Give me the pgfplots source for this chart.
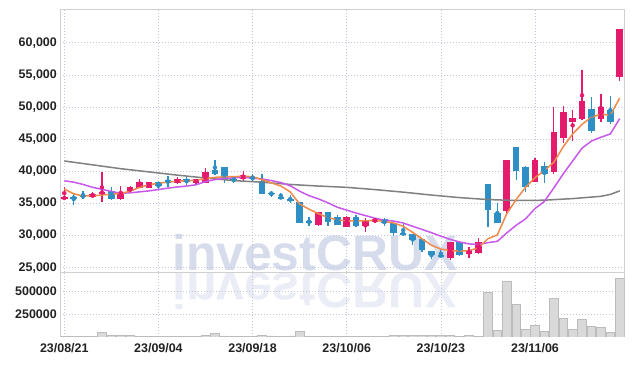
\documentclass[border=0pt]{standalone}
\usepackage{fontspec}
\setmainfont{Liberation Sans}
\usepackage{graphicx}
\usepackage{pgfplots}
\usepackage{pgfplotstable}
\pgfplotsset{compat=1.18}
\definecolor{cred}{RGB}{228,27,108}
\definecolor{cblue}{RGB}{46,143,196}
\definecolor{corange}{RGB}{240,138,75}
\definecolor{cpurple}{RGB}{200,88,235}
\definecolor{cgrayma}{RGB}{128,128,128}
\definecolor{gridc}{RGB}{196,199,218}
\definecolor{framec}{RGB}{208,208,208}
\definecolor{volfill}{RGB}{217,217,217}
\definecolor{voldraw}{RGB}{188,188,188}
\definecolor{wm}{RGB}{200,208,228}
\definecolor{labc}{RGB}{34,34,34}

\pgfplotstableread{
x o h l c
0 35700 37480 35700 35975
3 35950 36720 35900 36460
4 36570 39830 35170 36820
6 35630 37750 35520 36820
7 36970 37700 36600 37500
8 37440 38790 37400 38370
9 37440 38400 37400 38320
12 38120 39050 38000 38790
14 38120 38850 38050 38790
15 38200 40450 38100 39830
19 38740 40080 38280 39360
27 31590 33700 31500 33660
30 31380 33000 31300 32930
32 31530 32680 30500 32260
33 32150 32680 32000 32570
41 26550 29040 26200 28950
43 27080 28260 26460 27750
44 27230 29570 27100 29040
47 33860 41740 33190 41740
50 38370 42000 38370 41740
52 39830 49940 39520 46050
53 45120 50140 44340 49170
54 47650 49520 44750 48330
55 48120 55740 47900 50920
57 48120 51960 47700 49940
59 54700 62070 54030 62070
}\redtab

\pgfplotstableread{
x o h l c
1 36000 36610 34750 35800
2 36260 36970 35630 35950
5 36970 37500 35520 35630
10 38370 38400 37100 37750
11 38630 39260 37600 38120
13 38790 39050 37900 38280
16 40190 41750 39400 39570
17 40700 40700 38210 38630
18 38790 39300 38120 38530
20 39000 39520 38530 38800
21 38530 39520 36400 36410
22 36650 36970 35940 36450
23 36040 36650 35790 35790
24 35730 36300 35010 35480
25 35210 35210 31900 32000
26 32260 32830 31480 32060
28 33660 33660 31480 32060
29 32930 33190 31640 31700
31 32930 33190 31280 31530
34 32520 32680 31480 31900
35 31900 31900 29980 30350
36 30400 31740 29940 30200
37 30240 30240 28530 29300
38 29410 29410 27440 27750
39 27600 27600 26300 26930
40 26950 27750 26610 26750
42 28950 29040 26820 26970
45 38010 38010 31280 33970
46 33450 35010 31990 31990
48 43720 43720 38630 40080
49 40600 40860 36820 37590
51 40810 41380 38120 39520
56 49670 51590 45900 46300
58 49520 51700 47300 47700
}\bluetab

\pgfplotstableread{
x ma5 ma20
0 37230 38530
1 36500 38300
2 36150 37950
3 36200 37500
4 36300 37200
5 36450 36850
6 36550 36580
7 36900 36650
8 37500 36800
9 37900 36950
10 38150 37150
11 38300 37380
12 38450 37550
13 38530 37700
14 38600 37900
15 38850 38400
16 39050 38700
17 39150 38880
18 39150 38980
19 39250 39050
20 39150 38950
21 38700 38800
22 38200 38550
23 37700 38250
24 36800 37750
25 34900 36900
26 34100 36200
27 33400 35700
28 32800 35100
29 32450 34400
30 32280 33950
31 32300 33500
32 32260 33100
33 32400 32700
34 32180 32400
35 31950 32250
36 31450 31950
37 30500 31450
38 29500 30950
39 28500 30450
40 27900 29900
41 27650 29400
42 27600 29000
43 27650 28700
44 28100 28600
45 29500 28900
46 30100 29100
47 33400 30400
48 35600 31600
49 37500 32600
50 39000 34200
51 40100 35300
52 41400 37400
53 43800 39600
54 45800 41600
55 47300 43600
56 48400 44700
57 48900 45300
58 48700 45800
59 51400 48200
}\matab

\pgfplotstableread{
x v
0 41600
3 41000
6 40400
9 39900
12 39400
15 38950
18 38550
21 38300
24 37950
27 37700
30 37500
33 37150
36 36750
39 36300
42 35900
45 35600
48 35450
51 35500
54 35750
57 36100
58 36400
59 36950
}\longtab

\pgfplotstableread{
x v
0 8000
1 5000
2 5000
3 6000
4 50000
5 20000
6 20000
7 12000
8 5000
9 5000
10 5000
11 6000
12 5000
13 5000
14 8000
15 18000
16 38000
17 10000
18 5000
19 6000
20 5000
21 18000
22 10000
23 5000
24 10000
25 60000
26 6000
27 5000
28 5000
29 5000
30 6000
31 6000
32 5000
33 5000
34 5000
35 18000
36 12000
37 18000
38 12000
39 15000
40 15000
41 18000
42 8000
43 15000
44 6000
45 495000
46 71000
47 619000
48 362000
49 85000
50 130000
51 60000
52 427000
53 204000
54 82000
55 193000
56 111000
57 104000
58 52000
59 649000
}\voltab

\pgfplotsset{
  chartbase/.style={
    scale only axis, anchor=south west,
    width=564.2bp,
    xmin=-0.425, xmax=59.51,
    xtick={0,10,20,30,40,50},
    grid=major,
    major grid style={gridc, dash pattern=on 1bp off 2bp, line width=0.6bp},
    axis line style={framec, line width=0.8bp},
    major tick length=0pt,
    scaled y ticks=false,
    tick label style={font=\fontsize{12.5}{14}\selectfont\bfseries, text=labc},
    clip=true,
  }
}

\begin{document}
\begin{tikzpicture}
\useasboundingbox (0,0) rectangle (634bp,366bp);
% watermark
\node[anchor=base west, inner sep=0pt, text=wm, opacity=0.75,
  font=\fontsize{50}{50}\selectfont\bfseries] at (172bp,95.5bp) {investCRUX};
\node[anchor=base west, inner sep=0pt, text=wm, opacity=0.38,
  font=\fontsize{50}{50}\selectfont\bfseries] at (172bp,92.5bp) {\scalebox{1}[-1]{investCRUX}};

% price panel
\begin{axis}[chartbase,
  at={(60.3bp,93.7bp)}, height=262.8bp,
  ymin=24284, ymax=65164,
  xticklabel=\empty,
  ytick={25000,30000,35000,40000,45000,50000,55000,60000},
  yticklabels={{25,000},{30,000},{35,000},{40,000},{45,000},{50,000},{55,000},{60,000}},
]
% wicks
\addplot[cred, only marks, mark=none, forget plot,
  error bars/.cd, y dir=both, y explicit, error mark=none,
  error bar style={draw=cred, solid, line width=1.3bp}]
  table[x=x, y expr={(\thisrow{h}+\thisrow{l})/2}, y error expr={(\thisrow{h}-\thisrow{l})/2}] {\redtab};
\addplot[cblue, only marks, mark=none, forget plot,
  error bars/.cd, y dir=both, y explicit, error mark=none,
  error bar style={draw=cblue, solid, line width=1.3bp}]
  table[x=x, y expr={(\thisrow{h}+\thisrow{l})/2}, y error expr={(\thisrow{h}-\thisrow{l})/2}] {\bluetab};
% bodies
\addplot[cred, only marks, mark=none, forget plot,
  error bars/.cd, y dir=both, y explicit, error mark=none,
  error bar style={draw=cred, solid, line width=6.6bp}]
  table[x=x, y expr={(\thisrow{o}+\thisrow{c})/2}, y error expr={abs(\thisrow{c}-\thisrow{o})/2}] {\redtab};
\addplot[cblue, only marks, mark=none, forget plot,
  error bars/.cd, y dir=both, y explicit, error mark=none,
  error bar style={draw=cblue, solid, line width=6.6bp}]
  table[x=x, y expr={(\thisrow{o}+\thisrow{c})/2}, y error expr={abs(\thisrow{c}-\thisrow{o})/2}] {\bluetab};
% moving averages
\addplot[cgrayma, line width=1.5bp, mark=none] table[x=x, y=v] {\longtab};
\addplot[cpurple, line width=1.5bp, mark=none] table[x=x, y=ma20] {\matab};
\addplot[corange, line width=1.5bp, mark=none] table[x=x, y=ma5] {\matab};
\end{axis}

% volume panel
\begin{axis}[chartbase,
  at={(60.3bp,29.2bp)}, height=64.5bp,
  ymin=0, ymax=714600,
  xticklabels={23/08/21,23/09/04,23/09/18,23/10/06,23/10/23,23/11/06},
  xticklabel style={yshift=-3bp},
  ytick={250000,500000},
  yticklabels={250000,500000},
]
\addplot[ybar, bar width=8.6bp, bar shift=0pt, fill=volfill, draw=voldraw, line width=0.6bp] table[x=x, y=v] {\voltab};
\end{axis}
\end{tikzpicture}
\end{document}
